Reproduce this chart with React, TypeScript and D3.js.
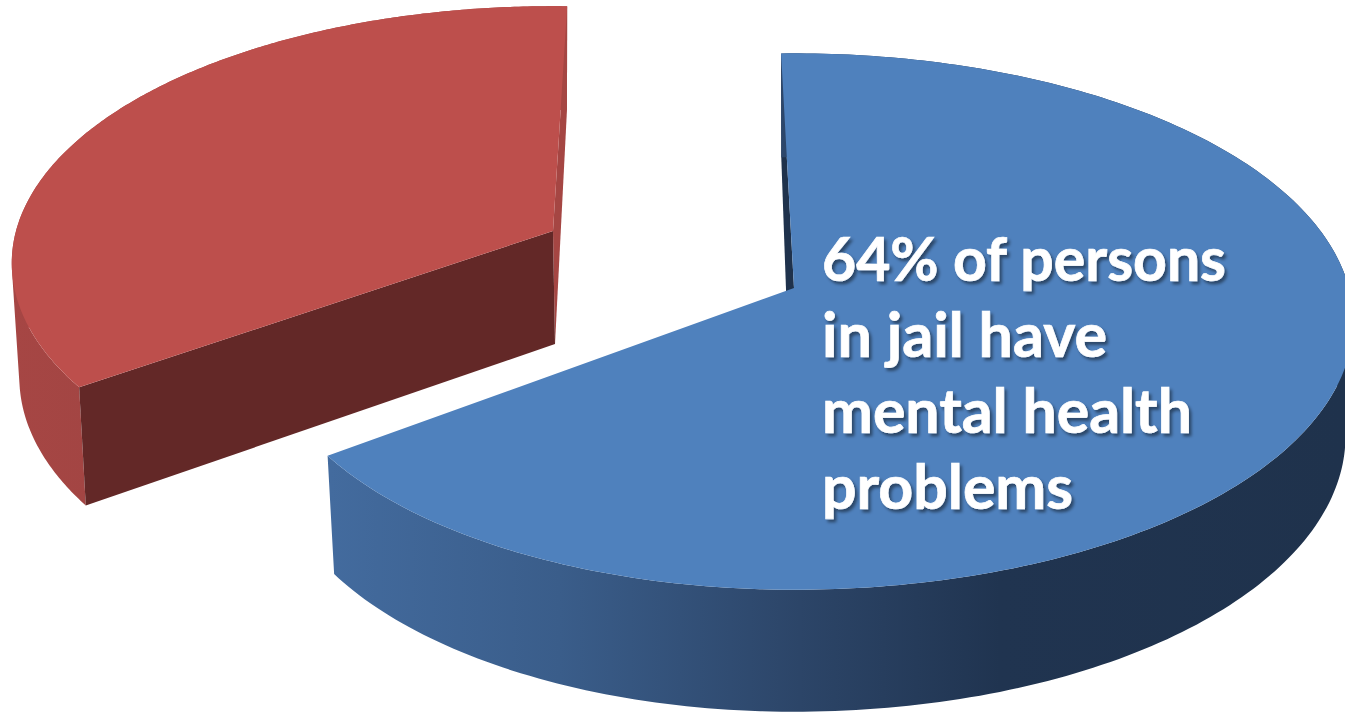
import React from "react";
import * as d3 from "d3";

const W = 1345;
const H = 713;

const sliceNames = ["Mental health problems", "No mental health problems"];
const sliceValues = [64, 36];
const labelLines = ["64% of persons", "in jail have", "mental health", "problems"];
const labelWidths = [404, 285, 370, 251];

const topColors = ["#4f81bd", "#bd4f4c"];
const cornerWallColors = ["#426a9d", "#632827"];
const sliverWallColors = ["#1f324c", "#a54643"];

// placement of each exploded slice in the picture
const apexX = [794, 553];
const apexY = [288, 231];
const radiusX = [555, 537];
const radiusY = [264, 253];
const viewStart = [-1.5, 235];
const viewEnd = [232.9, 361.7];
const rimTaper = [0.024, 0];
const apexBottomDx = [-4, 2];

const PERSP = 0.125;
const DEPTH = 113;
const DEPTH_NEAR = 0.08;
const SHRINK = 0.014;

const pie = d3.pie<number>().sort(null).startAngle(0).endAngle(2 * Math.PI);
const arcs = pie(sliceValues);

function project(i: number, tDeg: number, r: number, h: number): [number, number] {
  const t = (tDeg * Math.PI) / 180;
  const past = Math.max(0, (tDeg - 180) / 53);
  const rr = r * (1 - rimTaper[i] * past * past);
  const u = rr * Math.sin(t);
  const v = -rr * Math.cos(t);
  const w = 1 - PERSP * v;
  const s = 1 - h * SHRINK;
  const x = apexX[i] + (s * radiusX[i] * u) / w;
  const y = apexY[i] + (radiusY[i] * v) / w + h * DEPTH * (1 + DEPTH_NEAR * v);
  return [x, y];
}

const line = d3.line().curve(d3.curveLinear);

// the curved outer wall, as quads of one winding so that its silhouette is filled
function ribbonPath(top: [number, number][], bottom: [number, number][]) {
  let d = "";
  for (let k = 0; k < top.length - 1; k++) {
    const quad: [number, number][] = [top[k], top[k + 1], bottom[k + 1], bottom[k]];
    const oriented = d3.polygonArea(quad) < 0 ? quad.slice().reverse() : quad;
    d += line(oriented)! + "Z";
  }
  return d;
}

function paths(i: number) {
  const a = arcs[i];
  const view = d3.scaleLinear().domain([a.startAngle, a.endAngle]).range([viewStart[i], viewEnd[i]]);
  const ts = d3.range(0, 241).map((k) => view(a.startAngle + ((a.endAngle - a.startAngle) * k) / 240));
  const rimTop = ts.map((t) => project(i, t, 1, 0));
  const rimBottom = ts.map((t) => project(i, t, 1, 1));
  const apexTop = project(i, 0, 0, 0);
  const ab = project(i, 0, 0, 1);
  const apexBottom: [number, number] = [ab[0] + apexBottomDx[i], ab[1]];
  const t0 = ts[0];
  const t1 = ts[ts.length - 1];
  return {
    top: line([apexTop, ...rimTop])! + "Z",
    ribbon: ribbonPath(rimTop, rimBottom),
    startWall: line([apexTop, project(i, t0, 1, 0), project(i, t0, 1, 1), apexBottom])! + "Z",
    endWall: line([apexTop, project(i, t1, 1, 0), project(i, t1, 1, 1), apexBottom])! + "Z",
  };
}

const blueStops: [number, string][] = [
  [330, "#436b9e"],
  [560, "#3a5d8a"],
  [800, "#2c4568"],
  [1000, "#203450"],
  [1345, "#1f324c"],
];
const redStops: [number, string][] = [
  [10, "#a64644"],
  [90, "#a34543"],
  [570, "#a54643"],
];

export default function App() {
  const blue = paths(0);
  const red = paths(1);
  return (
    <svg
      width={W}
      height={H}
      viewBox={`0 0 ${W} ${H}`}
      style={{ position: "fixed", left: 0, top: 0, background: "#fff" }}
    >
      <defs>
        <linearGradient id="blueWall" gradientUnits="userSpaceOnUse" x1={330} x2={1345} y1={0} y2={0}>
          {blueStops.map(([x, c]) => (
            <stop key={x} offset={(x - 330) / (1345 - 330)} stopColor={c} />
          ))}
        </linearGradient>
        <linearGradient id="redWall" gradientUnits="userSpaceOnUse" x1={10} x2={570} y1={0} y2={0}>
          {redStops.map(([x, c]) => (
            <stop key={x} offset={(x - 10) / (570 - 10)} stopColor={c} />
          ))}
        </linearGradient>
        <filter id="textShadow" x="-5%" y="-10%" width="110%" height="130%">
          <feDropShadow dx={2.5} dy={3} stdDeviation={1.6} floodColor="#000" floodOpacity={0.45} />
        </filter>
      </defs>

      <g aria-label={sliceNames[1]}>
        <path d={red.endWall} fill={sliverWallColors[1]} />
        <path d={red.ribbon} fill="url(#redWall)" />
        <path d={red.startWall} fill={cornerWallColors[1]} />
        <path d={red.top} fill={topColors[1]} />
      </g>
      <g aria-label={sliceNames[0]}>
        <path d={blue.startWall} fill={sliverWallColors[0]} />
        <path d={blue.ribbon} fill="url(#blueWall)" />
        <path d={blue.top} fill={topColors[0]} />
      </g>

      <g
        filter="url(#textShadow)"
        fill="#fff"
        stroke="#fff"
        strokeWidth={0.7}
        fontFamily="Lato, 'Open Sans', sans-serif"
        fontWeight={700}
        fontSize={61}
      >
        {labelLines.map((s, i) => (
          <text key={s} x={822} y={281 + i * 76} textLength={labelWidths[i]} lengthAdjust="spacingAndGlyphs">
            {s}
          </text>
        ))}
      </g>
    </svg>
  );
}
